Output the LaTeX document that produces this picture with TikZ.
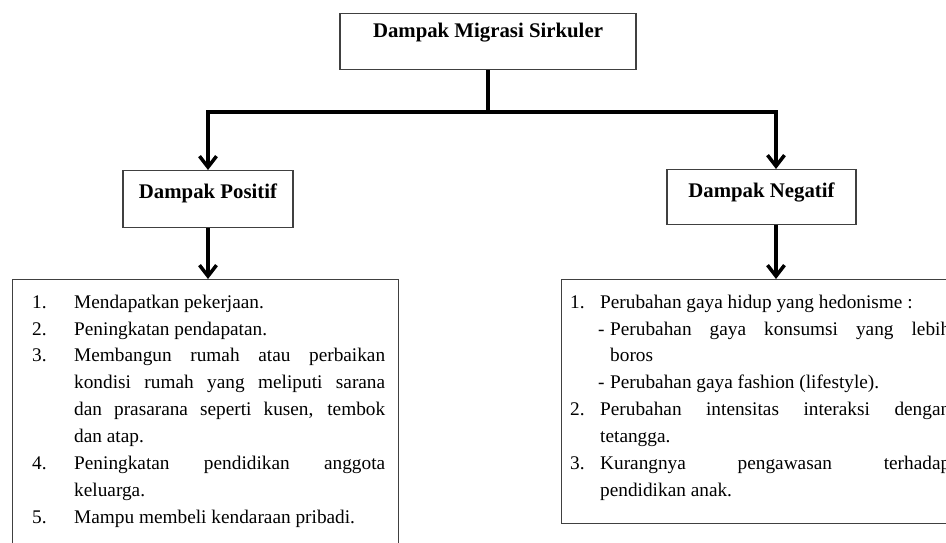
\documentclass[tikz,border=0pt]{standalone}
\usepackage{fontspec}
\setmainfont{Liberation Serif}
\usetikzlibrary{arrows.meta}

\newcommand{\numitem}[2]{\par\hangindent=#1\hangafter=1\noindent\makebox[#1][l]{#2}}
\newcommand{\dashitem}[2]{\par\hangindent=#2\hangafter=1\noindent\hspace*{#1}\makebox[\dimexpr#2-#1\relax][l]{-}}

\begin{document}
\begin{tikzpicture}[x=1pt,y=-1pt]
	\tikzset{headbox/.style={draw=black!75,line width=1.1pt,inner sep=0pt,
			font=\bfseries\fontsize{20.8}{24}\selectfont}}
	\tikzset{listbox/.style={draw=black!75,line width=1.1pt,inner sep=0pt,anchor=north west}}
	\tikzset{listtext/.style={inner sep=0pt,anchor=north west,align=justify,
			font=\fontsize{19.3}{26.9}\selectfont}}
	\tikzset{link/.style={line width=3.5pt,line join=miter}}
	\tikzset{arr/.style={-{Straight Barb[length=11pt,width=17pt]}}}
	\useasboundingbox (0,0) rectangle (946,542);
	\clip (0,0) rectangle (946,542);
	% heading boxes
	\node[headbox,minimum width=296pt,text height=24pt,text depth=32pt,anchor=north] (topbox) at (488,13) {Dampak Migrasi Sirkuler};
	\node[headbox,minimum width=170pt,text height=28pt,text depth=29pt,anchor=north] (posbox) at (208,170) {Dampak Positif};
	\node[headbox,minimum width=189pt,text height=28pt,text depth=27pt,anchor=north] (negbox) at (761.5,169) {Dampak Negatif};
	% list boxes
	\node[listbox,minimum width=386pt,minimum height=300pt] (poslistbox) at (12,279) {};
	\node[listbox,minimum width=420pt,minimum height=244pt] (neglistbox) at (561,279) {};
	\node[listtext,text width=353pt] (poslist) at (32,281) {%
		\numitem{42pt}{1.}Mendapatkan pekerjaan.
		\numitem{42pt}{2.}Peningkatan pendapatan.
		\numitem{42pt}{3.}Membangun rumah atau perbaikan\linebreak kondisi rumah yang meliputi sarana\linebreak dan prasarana seperti kusen, tembok\linebreak dan atap.
		\numitem{42pt}{4.}Peningkatan pendidikan anggota\linebreak keluarga.
		\numitem{42pt}{5.}Mampu membeli kendaraan pribadi.\par};
	\node[listtext,text width=380pt] (neglist) at (570,281) {%
		\numitem{30pt}{1.}Perubahan gaya hidup yang hedonisme :
		\dashitem{28pt}{40pt}Perubahan gaya konsumsi yang lebih\linebreak boros
		\dashitem{28pt}{40pt}Perubahan gaya fashion (lifestyle).
		\numitem{30pt}{2.}Perubahan intensitas interaksi dengan\linebreak tetangga.
		\numitem{30pt}{3.}Kurangnya pengawasan terhadap\linebreak pendidikan anak.\par};
	% connectors
	\coordinate (hub) at (488,112);
	\coordinate (rturn) at (776,112);
	\draw[link] (topbox.south) -- (hub);
	\draw[link,arr] (hub) -| (posbox.north);
	\draw[link,arr] (hub) -- (rturn) -- (rturn |- negbox.north);
	\draw[link,arr] (posbox.south) -- (posbox.south |- poslistbox.north);
	\draw[link,arr] (rturn |- negbox.south) -- (rturn |- neglistbox.north);
\end{tikzpicture}
\end{document}
